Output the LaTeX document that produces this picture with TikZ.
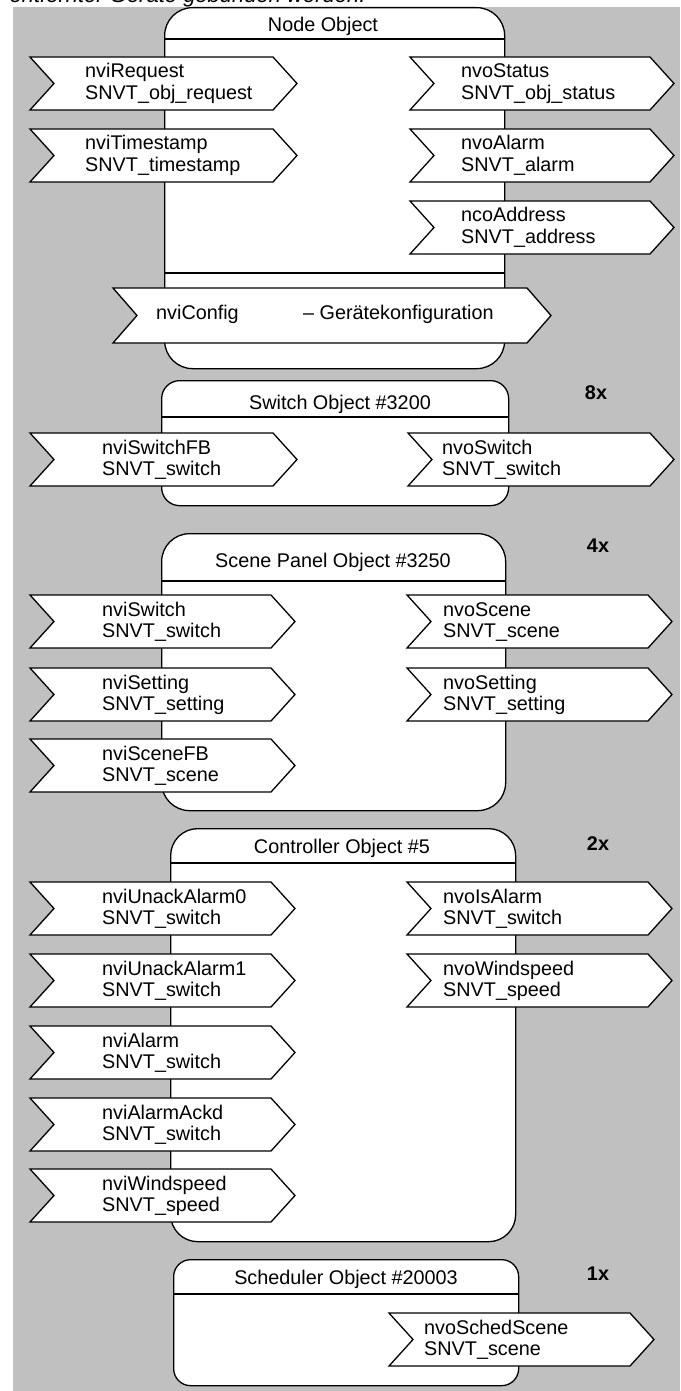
\documentclass[tikz,border=0pt]{standalone}
\usepackage{fontspec}
\setmainfont{Liberation Sans}
\definecolor{bggray}{RGB}{192,192,192}
\newcommand\nvsig[6]{%
  \draw[sig] (#2,#4) -- (#3,#4) -- ({#3+24},{#4+26.5}) -- (#3,{#4+53}) -- (#2,{#4+53}) -- ({#2+24},{#4+26.5}) -- cycle;
  \node[lbl, anchor=base west] (#1) at (#5,{#4+42.5}) {#6};}
\begin{document}
\begin{tikzpicture}[x=1pt,y=-1pt,
  objbox/.style={draw=black, line width=1.3pt, fill=white, inner sep=0pt, anchor=north west},
  sepline/.style={draw=black, line width=1.3pt},
  sig/.style={draw=black, line width=1.3pt, fill=white, line join=miter},
  lbl/.style={font=\fontsize{19.8}{21.5}\selectfont, inner sep=0pt, align=left},
  ttl/.style={font=\fontsize{19.8}{21.5}\selectfont, inner sep=0pt, anchor=base},
  mult/.style={font=\fontsize{19.8}{21.5}\selectfont\bfseries, inner sep=0pt, anchor=base}]
\useasboundingbox (0,0) rectangle (680,1391);
\fill[bggray] (13,7) rectangle (680,1391);
\node[anchor=base west, inner sep=0pt, font=\fontsize{22}{24}\selectfont\itshape] (cap) at (-4,3) {r entfernter Geräte gebunden werden.};

% ---------- Node Object ----------
\node[objbox, rounded corners=28pt, minimum width=340pt, minimum height=361pt] (nodeobj) at (164,7) {};
\draw[sepline] (nodeobj.west |- 0,39) -- (nodeobj.east |- 0,39);
\draw[sepline] (nodeobj.west |- 0,273) -- (nodeobj.east |- 0,273);
\node[ttl] (nodeobjT) at (323,32) {Node Object};
\nvsig{nviRequest}{30}{273}{57}{85}{nviRequest\\SNVT\_obj\_request}
\nvsig{nviTimestamp}{30}{273}{129}{85}{nviTimestamp\\SNVT\_timestamp}
\nvsig{nvoStatus}{410}{650}{57}{461}{nvoStatus\\SNVT\_obj\_status}
\nvsig{nvoAlarm}{410}{650}{129}{461}{nvoAlarm\\SNVT\_alarm}
\nvsig{ncoAddress}{410}{650}{201}{461}{ncoAddress\\SNVT\_address}
\draw[sig] (113,288) -- (527,288) -- (551,315.5) -- (527,343) -- (113,343) -- (137,315.5) -- cycle;
\node[lbl, anchor=base west] (nviConfig) at (156,319) {nviConfig};
\node[lbl, anchor=base west] (nviConfigD) at (303,319) {– Gerätekonfiguration};

% ---------- Switch Object ----------
\node[objbox, rounded corners=18pt, minimum width=347pt, minimum height=125pt] (switchobj) at (161,380) {};
\draw[sepline] (switchobj.west |- 0,417) -- (switchobj.east |- 0,417);
\node[ttl] (switchobjT) at (340,409) {Switch Object \#3200};
\node[mult] (switchN) at (596,399) {8x};
\nvsig{nviSwitchFB}{30}{273}{433}{102}{nviSwitchFB\\SNVT\_switch}
\nvsig{nvoSwitch}{408}{650}{433}{442}{nvoSwitch\\SNVT\_switch}

% ---------- Scene Panel Object ----------
\node[objbox, rounded corners=28pt, minimum width=344pt, minimum height=277pt] (sceneobj) at (161,533) {};
\draw[sepline] (sceneobj.west |- 0,581) -- (sceneobj.east |- 0,581);
\node[ttl] (sceneobjT) at (333,567) {Scene Panel Object \#3250};
\node[mult] (sceneN) at (598,552) {4x};
\nvsig{nviSwitch}{30}{271}{595}{102}{nviSwitch\\SNVT\_switch}
\nvsig{nviSetting}{30}{271}{668}{102}{nviSetting\\SNVT\_setting}
\nvsig{nviSceneFB}{30}{271}{739}{102}{nviSceneFB\\SNVT\_scene}
\nvsig{nvoScene}{407}{648}{595}{443}{nvoScene\\SNVT\_scene}
\nvsig{nvoSetting}{407}{648}{668}{443}{nvoSetting\\SNVT\_setting}

% ---------- Controller Object ----------
\node[objbox, rounded corners=27pt, minimum width=345pt, minimum height=413pt] (ctrlobj) at (170,828) {};
\draw[sepline] (ctrlobj.west |- 0,863) -- (ctrlobj.east |- 0,863);
\node[ttl] (ctrlobjT) at (342,853) {Controller Object \#5};
\node[mult] (ctrlN) at (598,850) {2x};
\nvsig{nviUnackAlarm0}{30}{271}{882}{102}{nviUnackAlarm0\\SNVT\_switch}
\nvsig{nviUnackAlarm1}{30}{271}{954}{102}{nviUnackAlarm1\\SNVT\_switch}
\nvsig{nviAlarm}{30}{271}{1026}{102}{nviAlarm\\SNVT\_switch}
\nvsig{nviAlarmAckd}{30}{271}{1098}{102}{nviAlarmAckd\\SNVT\_switch}
\nvsig{nviWindspeed}{30}{271}{1169}{102}{nviWindspeed\\SNVT\_speed}
\nvsig{nvoIsAlarm}{407}{648}{882}{443}{nvoIsAlarm\\SNVT\_switch}
\nvsig{nvoWindspeed}{407}{648}{954}{443}{nvoWindspeed\\SNVT\_speed}

% ---------- Scheduler Object ----------
\node[objbox, rounded corners=17pt, minimum width=345pt, minimum height=126pt] (schedobj) at (173,1259) {};
\draw[sepline] (schedobj.west |- 0,1294) -- (schedobj.east |- 0,1294);
\node[ttl] (schedobjT) at (346,1284) {Scheduler Object \#20003};
\node[mult] (schedN) at (598,1280) {1x};
\nvsig{nvoSchedScene}{389}{630}{1313}{424}{nvoSchedScene\\SNVT\_scene}
\end{tikzpicture}
\end{document}
